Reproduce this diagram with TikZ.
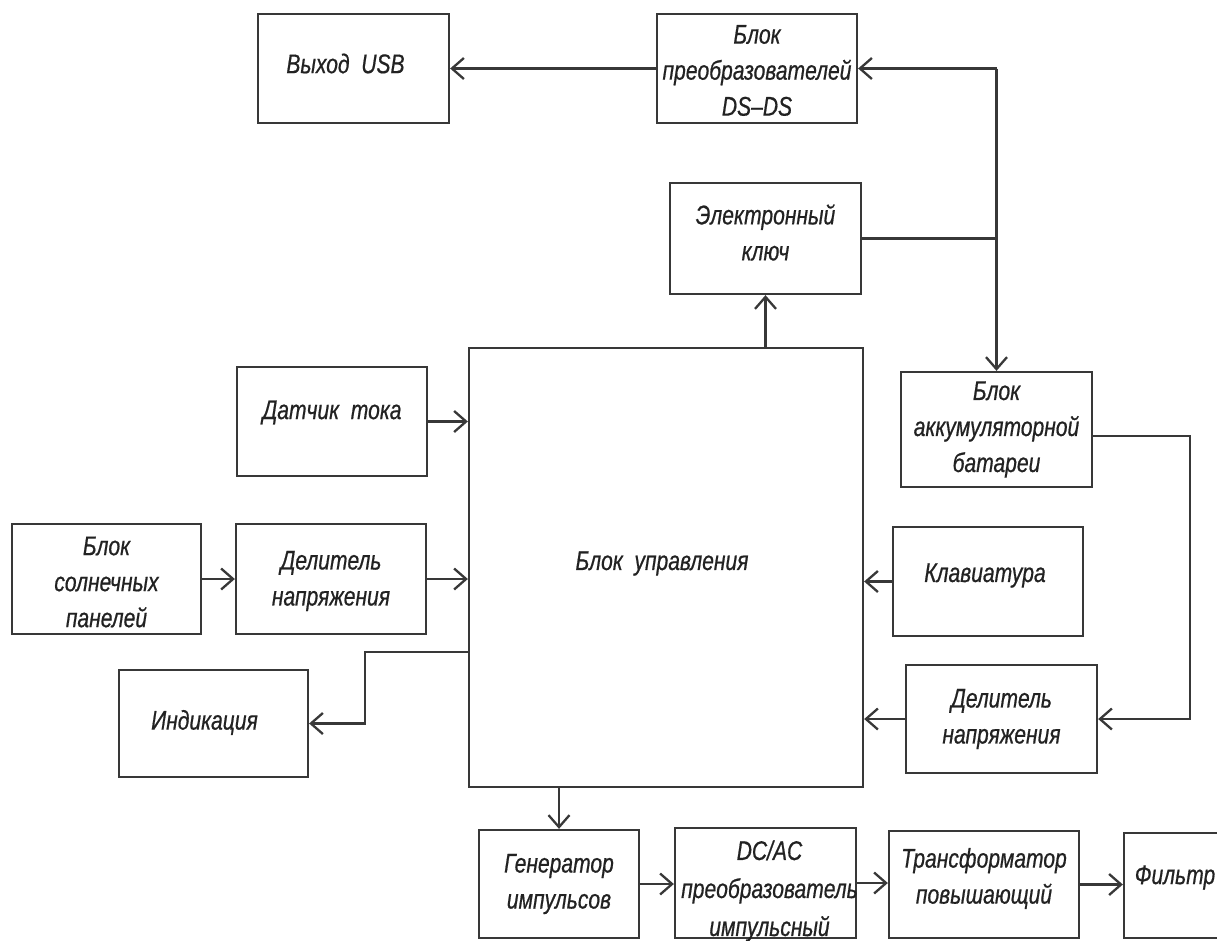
\documentclass[tikz,border=0pt]{standalone}
\usepackage{fontspec}
\usetikzlibrary{arrows.meta}
\newfontfamily\gostfont[FakeStretch=0.78,FakeBold=0.6]{Liberation Sans}
\definecolor{linecol}{HTML}{383838}
\definecolor{textcol}{HTML}{222222}
\tikzset{
  blk/.style={draw=linecol, line width=2.3pt, inner sep=0pt, rectangle},
  txt/.style={font=\gostfont\itshape\fontsize{27}{36}\selectfont, align=center, text=textcol},
  conn/.style={draw=linecol, line width=2.3pt},
  arr/.style={conn, -{Straight Barb[length=12pt,width=21pt]}}
}
\begin{document}
\begin{tikzpicture}[x=1pt,y=-1pt]
\useasboundingbox (0,0) rectangle (1217,940);
\fill[white] (0,0) rectangle (1217,940);
\clip (0,0) rectangle (1217,940);
% boxes
\node[blk, minimum width=191pt, minimum height=109pt, label={[txt,xshift=-8pt,yshift=5pt]center:Выход\ \ USB}] (usb) at (353.5,68.5) {};
\node[blk, minimum width=200pt, minimum height=109pt, label={[txt,yshift=-2pt]center:Блок\\преобразователей\\DS–DS}] (dsds) at (757,68.5) {};
\node[blk, minimum width=191pt, minimum height=111pt, label={[txt,yshift=6pt]center:Электронный\\ключ}] (key) at (765.5,238.5) {};
\node[blk, minimum width=394pt, minimum height=439pt, label={[txt,xshift=-4pt,yshift=4pt]center:Блок\ \ управления}] (main) at (666,567.5) {};
\node[blk, minimum width=190pt, minimum height=109pt, label={[txt,yshift=9pt]center:Датчик\ \ тока}] (sensor) at (332,421.5) {};
\node[blk, minimum width=189pt, minimum height=110pt, label={[txt,yshift=-3pt]center:Блок\\солнечных\\панелей}] (solar) at (106.5,579) {};
\node[blk, minimum width=190pt, minimum height=110pt, label={[txt,yshift=-2pt]center:Делитель\\напряжения}] (divL) at (331,579) {};
\node[blk, minimum width=189pt, minimum height=107pt, label={[txt,xshift=-9pt,yshift=1pt]center:Индикация}] (ind) at (213.5,723.5) {};
\node[blk, minimum width=191pt, minimum height=115pt, label={[txt]center:Блок\\аккумуляторной\\батареи}] (bat) at (996.5,429.5) {};
\node[blk, minimum width=190pt, minimum height=109pt, label={[txt,xshift=-3pt,yshift=6pt]center:Клавиатура}] (kbd) at (988,581.5) {};
\node[blk, minimum width=191pt, minimum height=108pt, label={[txt]center:Делитель\\напряжения}] (divR) at (1001.5,719) {};
\node[blk, minimum width=160pt, minimum height=108pt, label={[txt]center:Генератор\\импульсов}] (gen) at (559,884) {};
\node[blk, minimum width=181pt, minimum height=110pt, label={[txt,font=\gostfont\itshape\fontsize{27}{38}\selectfont,xshift=4pt,yshift=-8pt]center:DC/AC\\преобразователь\\импульсный}] (dcac) at (765.5,883) {};
\node[blk, minimum width=190pt, minimum height=107pt, label={[txt,yshift=6pt]center:Трансформатор\\повышающий}] (trans) at (984,884.5) {};
\node[blk, minimum width=102pt, minimum height=105pt, label={[txt,yshift=8pt]center:Фильтр}] (filt) at (1175,885.5) {};
% connectors
\draw[arr] (dsds.west) -- (usb.east);
\coordinate (bus) at (bat.north |- dsds.east);
\draw[arr] (bus) -- (dsds.east);
\draw[arr] (bus) -- (bat.north);
\draw[conn] (key.east) -- (key.east -| bat.north);
\draw[arr] (main.north -| key.south) -- (key.south);
\draw[arr] (sensor.east) -- (sensor.east -| main.west);
\draw[arr] (solar.east) -- (divL.west);
\draw[arr] (divL.east) -- (divL.east -| main.west);
\coordinate (indtap) at (main.west |- 0,652);
\draw[arr] (indtap) -- ++(-103,0) |- (ind.east);
\draw[arr] (kbd.west) -- (kbd.west -| main.east);
\coordinate (battap) at (bat.east |- 0,436);
\draw[arr] (battap) -- ++(97,0) |- (divR.east);
\draw[arr] (divR.west) -- (divR.west -| main.east);
\draw[arr] (main.south -| gen.north) -- (gen.north);
\draw[arr] (gen.east) -- (gen.east -| dcac.west);
\draw[arr] (dcac.east) -- (dcac.east -| trans.west);
\draw[arr] (trans.east) -- (trans.east -| filt.west);
\end{tikzpicture}
\end{document}
